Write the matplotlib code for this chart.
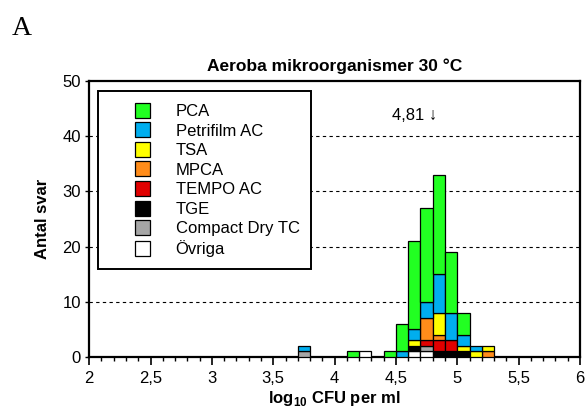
import numpy as np
import matplotlib
matplotlib.use("Agg")
import matplotlib.pyplot as plt
from matplotlib.patches import Patch, Rectangle
from matplotlib.legend_handler import HandlerPatch
from matplotlib.ticker import MultipleLocator, FuncFormatter

plt.rcParams['font.family'] = ['Liberation Sans', 'DejaVu Sans']
plt.rcParams['mathtext.fontset'] = 'custom'
plt.rcParams['mathtext.rm'] = 'Liberation Sans:bold'
plt.rcParams['mathtext.bf'] = 'Liberation Sans:bold'

# lower edge of each 0.1 log-bin
bins = [3.7, 3.8, 3.9, 4.0, 4.1, 4.2, 4.3, 4.4, 4.5, 4.6, 4.7, 4.8, 4.9, 5.0, 5.1, 5.2]

# counts per method (legend order)
pca       = [0, 0, 0, 0, 1, 0, 0, 1, 5, 16, 17, 18, 11, 4, 0, 0]
petrifilm = [1, 0, 0, 0, 0, 0, 0, 0, 1, 2, 3, 7, 5, 2, 1, 0]
tsa       = [0, 0, 0, 0, 0, 0, 0, 0, 0, 1, 0, 4, 0, 1, 1, 1]
mpca      = [0, 0, 0, 0, 0, 0, 0, 0, 0, 0, 4, 1, 0, 0, 0, 1]
tempo     = [0, 0, 0, 0, 0, 0, 0, 0, 0, 0, 1, 2, 2, 0, 0, 0]
tge       = [0, 0, 0, 0, 0, 0, 0, 0, 0, 1, 0, 1, 1, 1, 0, 0]
compact   = [1, 0, 0, 0, 0, 0, 0, 0, 0, 0, 1, 0, 0, 0, 0, 0]
ovriga    = [0, 0, 0, 0, 0, 1, 0, 0, 0, 1, 1, 0, 0, 0, 0, 0]

labels = ["PCA", "Petrifilm AC", "TSA", "MPCA", "TEMPO AC", "TGE",
          "Compact Dry TC", "Övriga"]
series = [pca, petrifilm, tsa, mpca, tempo, tge, compact, ovriga]
colors = ["#22FF22", "#00AEEF", "#FFFF00", "#FF8C1A", "#E00000", "#000000",
          "#A6A6A6", "#FFFFFF"]

median = 4.81

fig = plt.figure(figsize=(5.87, 4.17), dpi=100)
ax = fig.add_axes([0.152, 0.144, 0.836, 0.662])

x = np.array(bins)
bottom = np.zeros(len(bins))
# stack from the last legend entry upward
for vals, col in zip(series[::-1], colors[::-1]):
    v = np.array(vals, dtype=float)
    m = v > 0
    ax.bar(x[m], v[m], width=0.1, bottom=bottom[m], align='edge',
           color=col, edgecolor='black', linewidth=0.9, zorder=3)
    bottom += v

ax.set_xlim(2, 6)
ax.set_ylim(0, 50)
ax.xaxis.set_major_locator(MultipleLocator(0.5))
ax.xaxis.set_minor_locator(MultipleLocator(0.1))
ax.yaxis.set_major_locator(MultipleLocator(10))
ax.xaxis.set_major_formatter(FuncFormatter(lambda v, p: f"{v:g}".replace(".", ",")))
ax.tick_params(axis='x', which='major', direction='out', length=6, width=1.2,
               labelsize=12, pad=4)
ax.tick_params(axis='x', which='minor', direction='out', length=3, width=1)
ax.tick_params(axis='y', direction='out', length=3, width=1, labelsize=12, pad=3)

for s in ax.spines.values():
    s.set_linewidth(1.6)

for yv in [10, 20, 30, 40]:
    ax.axhline(yv, color='black', linestyle=(0, (3, 3)), linewidth=0.8, zorder=1)

ax.set_title("Aeroba mikroorganismer 30 °C", fontsize=12.5, fontweight='bold', pad=7)
ax.set_ylabel("Antal svar", fontsize=12, fontweight='bold', labelpad=9)
ax.set_xlabel(r"log$_{10}$ CFU per ml", fontsize=12, fontweight='bold', labelpad=2)

ax.text(4.65, 43.8, f"{median:.2f}".replace(".", ",") + " ↓", ha='center',
        va='center', fontsize=12)

fig.text(0.02, 0.915, "A", family='Liberation Serif', fontsize=20)


def square(legend, orig_handle, xdescent, ydescent, width, height, fontsize):
    side = fontsize * 0.9
    return Rectangle((width - side - xdescent, -ydescent + (height - side) / 2),
                     side, side)


handles = [Patch(facecolor=c, edgecolor='black', linewidth=0.9) for c in colors]
leg = ax.legend(handles, labels, loc='upper left', bbox_to_anchor=(0.018, 0.962),
                borderaxespad=0, fancybox=False, framealpha=1, edgecolor='black',
                fontsize=12, handlelength=2.4, handleheight=0.95,
                handletextpad=1.55, labelspacing=0.22, borderpad=0.7,
                handler_map={Patch: HandlerPatch(patch_func=square)})
leg.get_frame().set_linewidth(1.4)
leg.set_zorder(5)

fig.savefig("out.png", dpi=100)
